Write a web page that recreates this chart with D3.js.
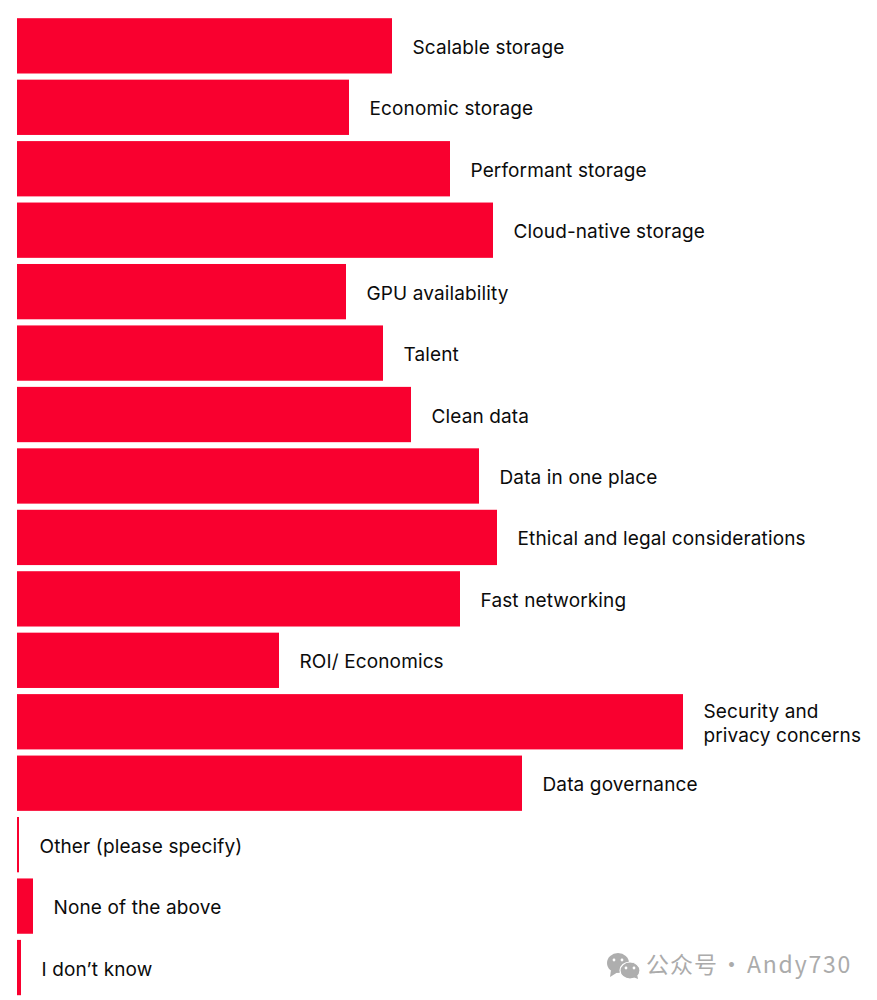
<!DOCTYPE html>
<html><head><meta charset="utf-8">
<script src="https://cdn.jsdelivr.net/npm/d3@7/dist/d3.min.js"></script>
<style>html,body{margin:0;padding:0;background:#fff}svg{display:block}</style>
</head><body><svg id="c" width="877" height="1000"></svg>
<script>
const categories = ["Scalable storage","Economic storage","Performant storage","Cloud-native storage","GPU availability","Talent","Clean data","Data in one place","Ethical and legal considerations","Fast networking","ROI/ Economics","Security and|privacy concerns","Data governance","Other (please specify)","None of the above","I don’t know"];
const values = [375,332,433,476,329,366,394,462,480,443,262,666,505,2,16,4];
const svg = d3.select("#c");
const x = d3.scaleLinear().domain([0,666]).range([17,683]);
const y = d3.scaleBand().domain(categories).range([18.2,995.2]).paddingInner(0.1).paddingOuter(0);
svg.selectAll("rect.bar").data(categories).join("rect").attr("class","bar")
 .attr("x",x(0)).attr("y",d=>y(d)).attr("height",y.bandwidth())
 .attr("width",(d,i)=>x(values[i])-x(0)).attr("fill","#f9002f");
const t = svg.selectAll("text.label").data(categories).join("text").attr("class","label")
 .attr("font-family","Inter").attr("font-size",19).attr("letter-spacing",0.13).attr("fill","#0b0b0b");
t.each(function(d,i){
  const lines=d.split("|"), cy=y(d)+y.bandwidth()/2, lh=23.5, el=d3.select(this);
  lines.forEach((s,k)=>el.append("tspan").attr("x",x(values[i])+20.5)
    .attr("y",cy+8+(k-(lines.length-1)/2)*lh).text(s));
});
const wm=svg.append("g").attr("font-family","Noto Sans CJK SC").attr("fill","#ababab");
wm.append("text").attr("x",646).attr("y",973).attr("font-size",23).attr("letter-spacing",1).text("公众号");
wm.append("text").attr("x",720).attr("y",973).attr("font-size",23).text("·");
wm.append("text").attr("x",747).attr("y",973).attr("font-size",23).attr("letter-spacing",1.8).text("Andy730");
const w=svg.append("g").attr("fill","#aeaeae");
w.append("ellipse").attr("cx",618).attr("cy",963).attr("rx",11).attr("ry",10);
w.append("path").attr("d","M611 970L610 977L618 972Z");
w.append("ellipse").attr("cx",630).attr("cy",970.5).attr("rx",10).attr("ry",8.5).attr("stroke","#fff").attr("stroke-width",1.2);
w.append("path").attr("d","M633 977L638 979L637 974Z");
[[614,960],[622,960],[626,968],[634,968]].forEach(p=>w.append("circle").attr("cx",p[0]).attr("cy",p[1]).attr("r",1.4).attr("fill","#fff"));
</script></body></html>
